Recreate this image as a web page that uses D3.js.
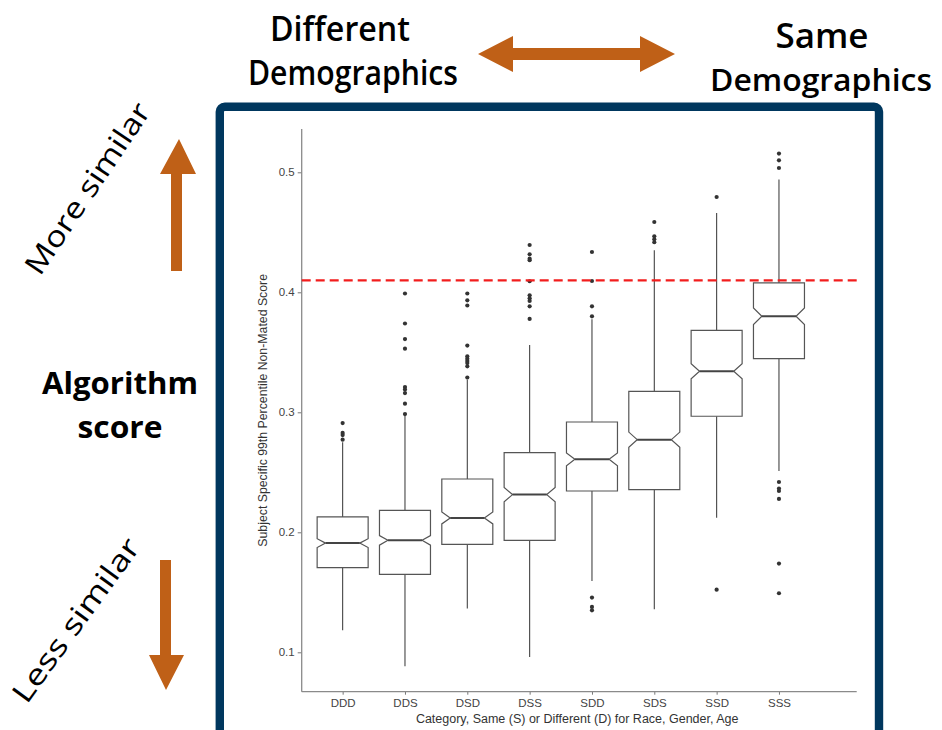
<!DOCTYPE html>
<html><head><meta charset="utf-8">
<script src="https://cdn.jsdelivr.net/npm/d3@7"></script>
<style>html,body{margin:0;padding:0;background:#fff;}svg{display:block;}</style>
</head><body>
<svg id="chart" width="942" height="730"></svg>
<script>
const categories = ["DDD","DDS","DSD","DSS","SDD","SDS","SSD","SSS"];
const q1         = [0.1706, 0.1650, 0.1900, 0.1933, 0.2344, 0.2356, 0.2967, 0.3447];
const medians    = [0.1910, 0.1933, 0.2120, 0.2314, 0.2608, 0.2772, 0.3342, 0.3800];
const q3         = [0.2128, 0.2183, 0.2444, 0.2664, 0.2919, 0.3175, 0.3683, 0.4078];
const whiskerLow = [0.1183, 0.0883, 0.1364, 0.0961, 0.1594, 0.1358, 0.2122, 0.2511];
const whiskerHigh= [0.2750, 0.2970, 0.3270, 0.3560, 0.3775, 0.4350, 0.4661, 0.4939];
const notchHalf  = [0.0037, 0.0040, 0.0050, 0.0060, 0.0053, 0.0063, 0.0063, 0.0069];
const outliers = [
  [0.2910, 0.2828, 0.2810, 0.2772],
  [0.3990, 0.3740, 0.3610, 0.3530, 0.3210, 0.3190, 0.3160, 0.3072, 0.2985],
  [0.3990, 0.3933, 0.3890, 0.3556, 0.3467, 0.3447, 0.3428, 0.3410, 0.3383, 0.3289],
  [0.4394, 0.4317, 0.4280, 0.4267, 0.4092, 0.3975, 0.3950, 0.3928, 0.3883, 0.3778],
  [0.4336, 0.4094, 0.3883, 0.3800, 0.1456, 0.1378, 0.1350],
  [0.4586, 0.4467, 0.4442, 0.4417],
  [0.4794, 0.1522],
  [0.5156, 0.5100, 0.5036, 0.2419, 0.2364, 0.2344, 0.2278, 0.1739, 0.1492]
];
const yTicks = [0.1, 0.2, 0.3, 0.4, 0.5];
const threshold = 0.41;
const yTitle = "Subject Specific 99th Percentile Non-Mated Score";
const xTitle = "Category, Same (S) or Different (D) for Race, Gender, Age";

const svg = d3.select("#chart");
const orange = "#bf6017";
const navy = "#00375e";

// frame
svg.append("rect").attr("x", 219.8).attr("y", 106.7).attr("width", 659.2).attr("height", 700)
  .attr("rx", 5).attr("fill", "#fff").attr("stroke", navy).attr("stroke-width", 8.4);

// scales
const pLeft = 301.7, pRight = 856.7, pTop = 129, pBottom = 691.7;
const y = d3.scaleLinear().domain([0.1, 0.5]).range([652.3, 172.3]);
const x = d3.scalePoint().domain(categories).range([pLeft, pRight]).padding(0.952).align(0.345);
const boxW = 51, notchW = 0.67;

const g = svg.append("g");

// axes
const yAxis = g.append("g").attr("transform", `translate(${pLeft},0)`)
  .call(d3.axisLeft(y).tickValues(yTicks).tickFormat(d3.format(".1f")).tickSize(4).tickPadding(3));
yAxis.select(".domain").remove();
g.append("line").attr("x1", pLeft).attr("x2", pLeft).attr("y1", pTop).attr("y2", pBottom)
  .attr("stroke", "#8a8a8a").attr("stroke-width", 1.3);
const xAxis = g.append("g").attr("transform", `translate(0,${pBottom})`)
  .call(d3.axisBottom(x).tickSize(3).tickPadding(4));
xAxis.select(".domain").remove();
g.append("line").attr("x1", pLeft).attr("x2", pRight).attr("y1", pBottom).attr("y2", pBottom)
  .attr("stroke", "#8a8a8a").attr("stroke-width", 1.3);
[yAxis, xAxis].forEach(a => {
  a.selectAll(".tick line").attr("stroke", "#777").attr("stroke-width", 1);
  a.selectAll(".tick text").attr("fill", "#444").attr("font-family", "Liberation Sans, Arial, sans-serif").attr("font-size", 11.5);
});

// axis titles
g.append("text").attr("transform", `translate(267,${(pTop + pBottom) / 2}) rotate(-90)`)
  .attr("text-anchor", "middle").attr("font-family", "Liberation Sans, Arial, sans-serif")
  .attr("font-size", 12.3).attr("fill", "#333").text(yTitle);
g.append("text").attr("x", (pLeft + pRight) / 2 - 2).attr("y", 723)
  .attr("text-anchor", "middle").attr("font-family", "Liberation Sans, Arial, sans-serif")
  .attr("font-size", 12.5).attr("fill", "#333").text(xTitle);

// boxplots
categories.forEach((c, i) => {
  const cx = x(c), hw = boxW / 2, nw = hw * notchW;
  const bg = g.append("g");
  bg.append("line").attr("x1", cx).attr("x2", cx).attr("y1", y(q3[i])).attr("y2", y(whiskerHigh[i]))
    .attr("stroke", "#444").attr("stroke-width", 1.1);
  bg.append("line").attr("x1", cx).attr("x2", cx).attr("y1", y(q1[i])).attr("y2", y(whiskerLow[i]))
    .attr("stroke", "#444").attr("stroke-width", 1.1);
  const nTop = y(medians[i] + notchHalf[i]), nBot = y(medians[i] - notchHalf[i]), m = y(medians[i]);
  const pts = [
    [cx - hw, y(q3[i])], [cx + hw, y(q3[i])], [cx + hw, nTop], [cx + nw, m], [cx + hw, nBot],
    [cx + hw, y(q1[i])], [cx - hw, y(q1[i])], [cx - hw, nBot], [cx - nw, m], [cx - hw, nTop]
  ];
  bg.append("path").attr("d", d3.line()(pts) + "Z").attr("fill", "#fff")
    .attr("stroke", "#555").attr("stroke-width", 1.2);
  bg.append("line").attr("x1", cx - nw).attr("x2", cx + nw).attr("y1", m).attr("y2", m)
    .attr("stroke", "#444").attr("stroke-width", 2);
  bg.selectAll("circle").data(outliers[i]).join("circle")
    .attr("cx", cx).attr("cy", d => y(d)).attr("r", 2.1).attr("fill", "#333");
});

// threshold line
g.append("line").attr("x1", pLeft).attr("x2", pRight).attr("y1", y(threshold)).attr("y2", y(threshold))
  .attr("stroke", "#f21d1d").attr("stroke-width", 2.3).attr("stroke-dasharray", "9,5");

// annotations
const ann = svg.append("g").attr("font-family", "Open Sans, Liberation Sans, sans-serif").attr("fill", "#000");
function label(txt, xx, yy, size, weight, len) {
  ann.append("text").attr("x", xx).attr("y", yy).attr("text-anchor", "middle")
    .attr("font-size", size).attr("font-weight", weight)
    .attr("textLength", len).attr("lengthAdjust", "spacingAndGlyphs").text(txt);
}
label("Different", 340, 41, 34, 600, 140);
label("Demographics", 353, 85, 34, 600, 210);
label("Same", 822, 48, 34, 600, 93);
label("Demographics", 821, 91, 31, 600, 222);
label("Algorithm", 120, 394, 30, 700, 156);
label("score", 120, 438, 30, 700, 85);
ann.append("text").attr("transform", "translate(96,194) rotate(-56)").attr("text-anchor", "middle")
  .attr("font-size", 29).attr("font-weight", 500).attr("textLength", 200).attr("lengthAdjust", "spacingAndGlyphs").text("More similar");
ann.append("text").attr("transform", "translate(84,626) rotate(-54)").attr("text-anchor", "middle")
  .attr("font-size", 29).attr("font-weight", 500).attr("textLength", 195).attr("lengthAdjust", "spacingAndGlyphs").text("Less similar");

// arrows
const arrows = svg.append("g").attr("fill", orange);
arrows.append("path").attr("d",
  "M478,54 L513,36 L513,48 L640,48 L640,36 L675,54 L640,72 L640,60 L513,60 L513,72 Z");
arrows.append("path").attr("d",
  "M179,139 L196,174 L182,174 L182,271 L171,271 L171,174 L160,174 Z");
arrows.append("path").attr("d",
  "M166,690 L149,655 L160,655 L160,560 L171,560 L171,655 L184,655 Z");
</script>
</body></html>
